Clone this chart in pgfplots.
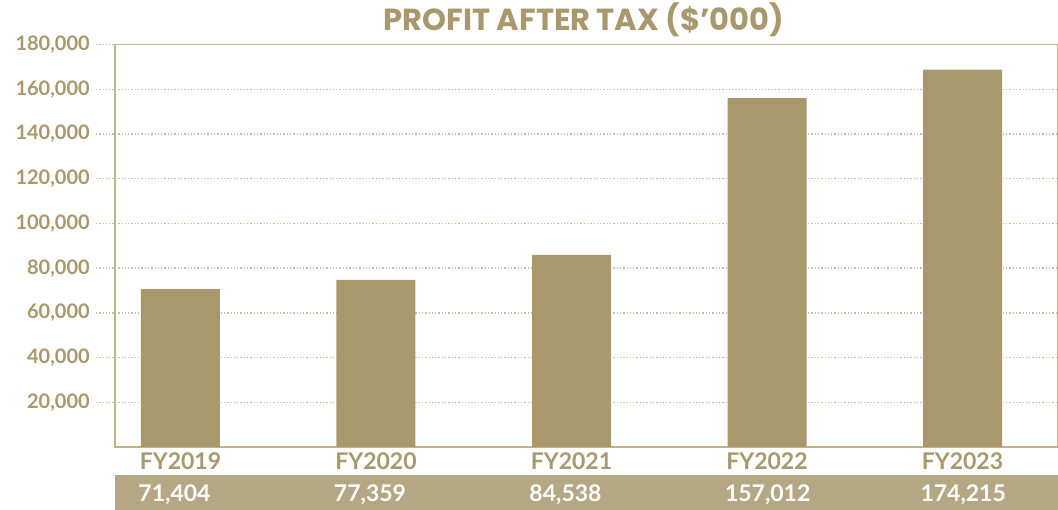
\documentclass[border=0pt]{standalone}
\usepackage{pgfplots}
\pgfplotsset{compat=1.18}
\usepackage{fontspec}
\setmainfont{Lato}
\newfontfamily\titlefont{Poppins}
\definecolor{barC}{RGB}{168,152,108}
\definecolor{txtC}{RGB}{168,152,108}
\definecolor{bandC}{RGB}{181,167,131}
\definecolor{frameC}{RGB}{192,178,142}
\definecolor{gridC}{RGB}{200,190,160}
\begin{document}
\begin{tikzpicture}[x=1pt,y=1pt]
\useasboundingbox (0,0) rectangle (1058,510);
\fill[bandC] (115,0) rectangle (1058,35);
\node[anchor=base, inner sep=0pt, color=txtC, font=\titlefont\fontsize{30.5}{34}\selectfont\bfseries] at (584,479) {PROFIT AFTER TAX (\$’000)};
\begin{axis}[
  at={(115pt,63pt)}, anchor=south west,
  scale only axis, width=943pt, height=402.4pt,
  xmin=-0.335, xmax=4.4885,
  ymin=0, ymax=180000,
  clip=false,
  axis line style={draw=frameC, line width=1.3pt},
  ytick={20000,40000,60000,80000,100000,120000,140000,160000,180000},
  yticklabel style={font=\fontsize{20}{24}\selectfont\bfseries, color=txtC, inner sep=0pt, xshift=-6pt},
  scaled y ticks=false,
  /pgf/number format/.cd, fixed, 1000 sep={,}, assume math mode=true, /pgfplots/.cd,
  ymajorgrids,
  grid style={draw=gridC, line width=1.3pt, dotted},
  ytick style={draw=gridC, line width=1.3pt, dotted},
  tick align=outside, major tick length=19pt,
  xtick={0,1,2,3,4},
  xticklabels={FY2019,FY2020,FY2021,FY2022,FY2023},
  xtick style={draw=none},
  xticklabel style={font=\fontsize{23}{27}\selectfont\bfseries, color=txtC, anchor=base, inner sep=0pt, yshift=-3.3pt},
]
\addplot[ybar, bar width=79pt, bar shift=0pt, fill=barC, draw=none] coordinates {
  (0,70600) (1,74700) (2,85900) (3,156100) (4,168800)
};
\addplot[draw=none, mark=none, nodes near coords, point meta=explicit symbolic,
  nodes near coords style={anchor=base, inner sep=0pt, text width=84pt, align=left, color=white, font=\fontsize{23}{27}\selectfont\bfseries}]
  table[x=x, y=y, meta=label] {
x y label
0 -24470 71,404
1 -24470 77,359
2 -24470 84,538
3 -24470 157,012
4 -24470 174,215
};
\end{axis}
\end{tikzpicture}
\end{document}
